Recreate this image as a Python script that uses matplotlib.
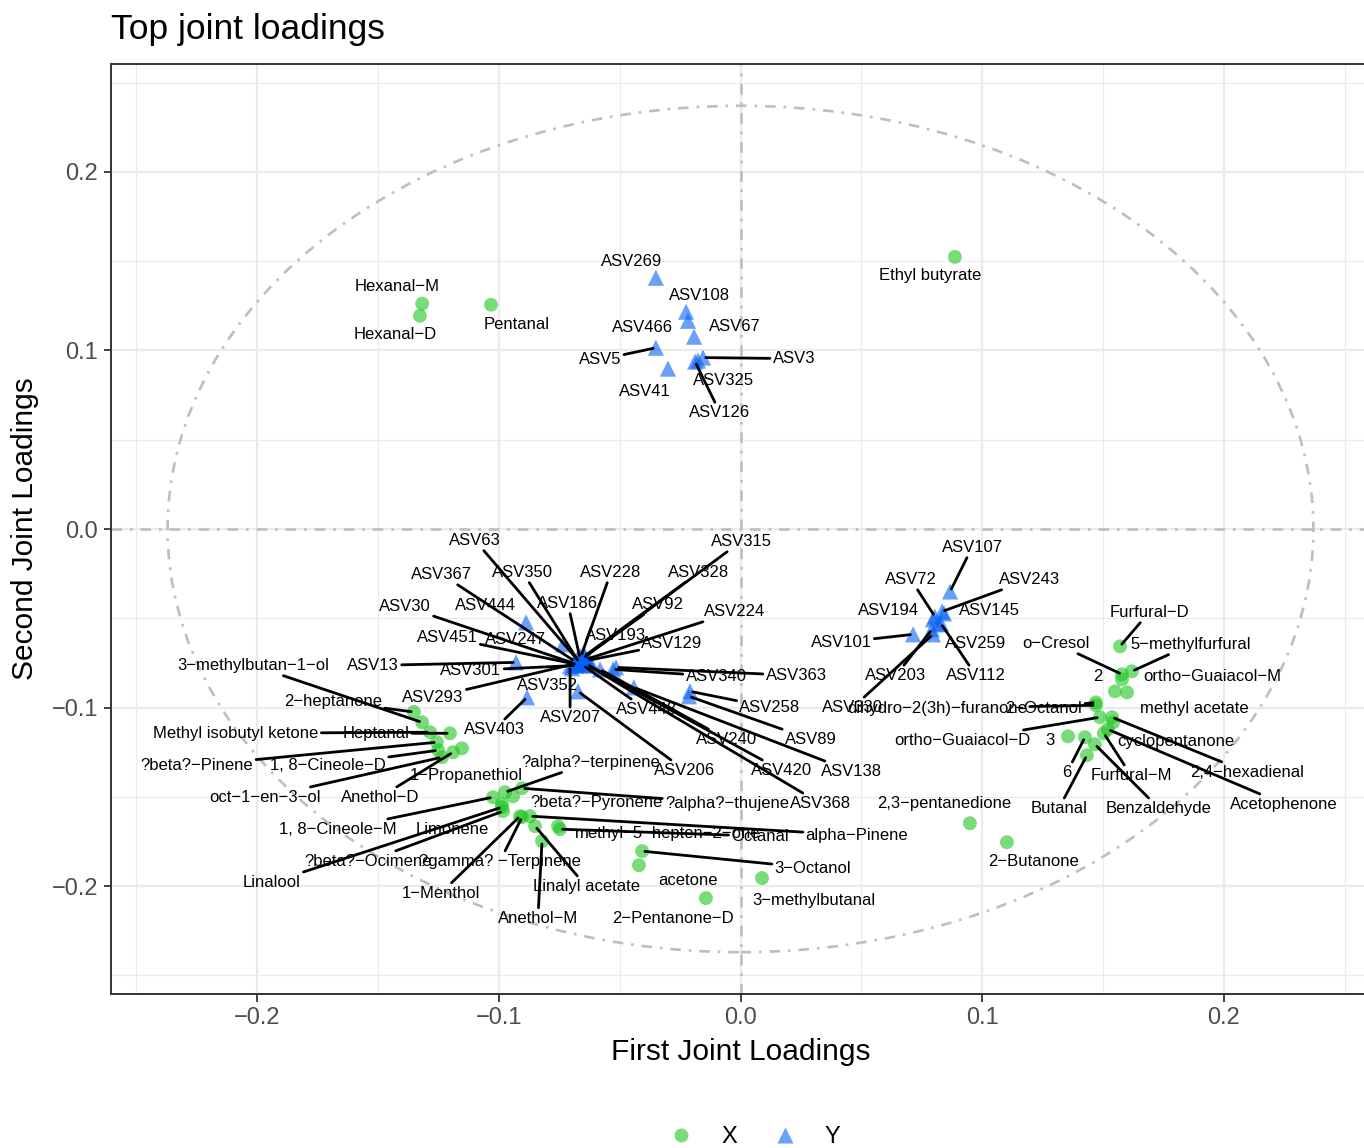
import matplotlib.pyplot as plt
from matplotlib.lines import Line2D
from matplotlib.patches import Ellipse

plt.rcParams['font.family'] = ['Liberation Sans', 'DejaVu Sans']

# X block loadings (metabolites)
x_names = ['Ethyl butyrate', 'Hexanal-M', 'Hexanal-D', 'Pentanal', '3-methylbutan-1-ol',
           '2-heptanone', 'Methyl isobutyl ketone', 'Heptanal', '?beta?-Pinene', '1, 8-Cineole-D',
           'oct-1-en-3-ol', 'Anethol-D', '1-Propanethiol', '?alpha?-terpinene', '?beta?-Pyronene',
           '?alpha?-thujene', '1, 8-Cineole-M', 'Limonene', 'Linalool', '?beta?-Ocimene',
           '?gamma? -Terpinene', '1-Menthol', 'Anethol-M', 'Linalyl acetate', 'methyl-5-hepten-2-one',
           'alpha-Pinene', 'Octanal', '3-Octanol', 'acetone', '3-methylbutanal',
           '2-Pentanone-D', '2,3-pentanedione', '2-Butanone', 'Furfural-D', '5-methylfurfural',
           'o-Cresol', '2', 'ortho-Guaiacol-M', 'methyl acetate', '2-Octanol',
           'dihydro-2(3h)-furanone', 'ortho-Guaiacol-D', '3', 'cyclopentanone', '2,4-hexadienal',
           'Acetophenone', 'Furfural-M', '6', 'Butanal', 'Benzaldehyde']
x_first = [0.0887, -0.1317, -0.1326, -0.1032, -0.1317,
           -0.1351, -0.1284, -0.1202, -0.1256, -0.1251,
           -0.1235, -0.1189, -0.1152, -0.0974, -0.0941,
           -0.0904, -0.1024, -0.0987, -0.0987, -0.0982,
           -0.0904, -0.0912, -0.0821, -0.0850, -0.0755,
           -0.0871, -0.0747, -0.0407, -0.0420, 0.0089,
           -0.0143, 0.0949, 0.1102, 0.1570, 0.1619,
           0.1578, 0.1578, 0.1599, 0.1549, 0.1470,
           0.1470, 0.1487, 0.1355, 0.1541, 0.1537,
           0.1520, 0.1503, 0.1425, 0.1433, 0.1466]
x_second = [0.1524, 0.1262, 0.1194, 0.1256, -0.1083,
            -0.1025, -0.1138, -0.1144, -0.1194, -0.1239,
            -0.1278, -0.1250, -0.1228, -0.1474, -0.1497,
            -0.1452, -0.1502, -0.1541, -0.1558, -0.1580,
            -0.1614, -0.1608, -0.1748, -0.1664, -0.1664,
            -0.1608, -0.1681, -0.1804, -0.1883, -0.1955,
            -0.2067, -0.1648, -0.1754, -0.0657, -0.0797,
            -0.0814, -0.0842, -0.0915, -0.0909, -0.0971,
            -0.0987, -0.1054, -0.1161, -0.1083, -0.1054,
            -0.1122, -0.1144, -0.1166, -0.1267, -0.1206]
# repelled label positions
x_label_first = [0.0784, -0.1421, -0.1429, -0.0925, -0.2017,
                 -0.1686, -0.2087, -0.1508, -0.2248, -0.1706,
                 -0.1967, -0.1491, -0.1135, -0.0618, -0.0594,
                 -0.0056, -0.1665, -0.1193, -0.1938, -0.1541,
                 -0.0995, -0.1239, -0.0838, -0.0639, -0.0300,
                 0.0482, 0.0081, 0.0300, -0.0217, 0.0304,
                 -0.0279, 0.0842, 0.1210, 0.1690, 0.1864,
                 0.1305, 0.1479, 0.1950, 0.1876, 0.1255,
                 0.0813, 0.0916, 0.1280, 0.1801, 0.2095,
                 0.2248, 0.1615, 0.1351, 0.1317, 0.1731]
x_label_second = [0.1420, 0.1357, 0.1088, 0.1144, -0.0764,
                  -0.0965, -0.1144, -0.1144, -0.1323, -0.1323,
                  -0.1502, -0.1502, -0.1379, -0.1306, -0.1530,
                  -0.1536, -0.1681, -0.1681, -0.1978, -0.1860,
                  -0.1860, -0.2039, -0.2179, -0.2000, -0.1703,
                  -0.1715, -0.1720, -0.1899, -0.1966, -0.2078,
                  -0.2179, -0.1536, -0.1860, -0.0467, -0.0646,
                  -0.0641, -0.0825, -0.0825, -0.1004, -0.1004,
                  -0.1004, -0.1183, -0.1183, -0.1189, -0.1362,
                  -0.1541, -0.1379, -0.1362, -0.1564, -0.1564]

# Y block loadings (ASVs)
y_names = ['ASV269', 'ASV108', 'ASV466', 'ASV67', 'ASV5', 'ASV41', 'ASV3', 'ASV325', 'ASV126',
           'ASV63', 'ASV367', 'ASV350', 'ASV228', 'ASV315', 'ASV328', 'ASV30', 'ASV444',
           'ASV186', 'ASV92', 'ASV224', 'ASV451', 'ASV247', 'ASV193', 'ASV129', 'ASV13',
           'ASV301', 'ASV293', 'ASV352', 'ASV403', 'ASV207', 'ASV448', 'ASV340', 'ASV363',
           'ASV258', 'ASV89', 'ASV240', 'ASV206', 'ASV420', 'ASV138', 'ASV368',
           'ASV107', 'ASV72', 'ASV243', 'ASV194', 'ASV145', 'ASV101', 'ASV259', 'ASV203',
           'ASV112', 'ASV330']
y_first = [-0.0350, -0.0225, -0.0217, -0.0192, -0.0350, -0.0300, -0.0155, -0.0176, -0.0188,
           -0.0676, -0.0685, -0.0668, -0.0660, -0.0651, -0.0647, -0.0689, -0.0887,
           -0.0664, -0.0643, -0.0639, -0.0680, -0.0734, -0.0623, -0.0631, -0.0929,
           -0.0680, -0.0676, -0.0697, -0.0883, -0.0705, -0.0651, -0.0527, -0.0515,
           -0.0209, -0.0213, -0.0581, -0.0672, -0.0635, -0.0441, -0.0631,
           0.0867, 0.0804, 0.0834, 0.0796, 0.0842, 0.0714, 0.0817, 0.0792,
           0.0829, 0.0796]
y_second = [0.1407, 0.1217, 0.1166, 0.1077, 0.1015, 0.0898, 0.0960, 0.0943, 0.0937,
            -0.0730, -0.0741, -0.0747, -0.0713, -0.0724, -0.0713, -0.0752, -0.0523,
            -0.0724, -0.0713, -0.0730, -0.0758, -0.0646, -0.0741, -0.0736, -0.0747,
            -0.0764, -0.0752, -0.0780, -0.0943, -0.0769, -0.0764, -0.0786, -0.0775,
            -0.0909, -0.0937, -0.0786, -0.0909, -0.0758, -0.0887, -0.0764,
            -0.0350, -0.0490, -0.0462, -0.0506, -0.0473, -0.0590, -0.0534, -0.0562,
            -0.0529, -0.0590]
y_label_first = [-0.0449, -0.0168, -0.0407, -0.0023, -0.0581, -0.0395, 0.0221, -0.0072, -0.0085,
                 -0.1098, -0.1235, -0.0900, -0.0536, 0.0002, -0.0172, -0.1388, -0.1053,
                 -0.0714, -0.0341, -0.0023, -0.1214, -0.0929, -0.0519, -0.0283, -0.1520,
                 -0.1115, -0.1272, -0.0800, -0.1019, -0.0705, -0.0391, -0.0101, 0.0230,
                 0.0122, 0.0291, -0.0056, -0.0230, 0.0168, 0.0459, 0.0329,
                 0.0958, 0.0705, 0.1197, 0.0614, 0.1028, 0.0416, 0.0974, 0.0643,
                 0.0974, 0.0465]
y_label_second = [0.1497, 0.1306, 0.1127, 0.1133, 0.0948, 0.0769, 0.0954, 0.0831, 0.0652,
                  -0.0064, -0.0255, -0.0243, -0.0243, -0.0070, -0.0243, -0.0434, -0.0428,
                  -0.0417, -0.0422, -0.0462, -0.0607, -0.0618, -0.0596, -0.0641, -0.0764,
                  -0.0792, -0.0943, -0.0876, -0.1122, -0.1054, -0.1010, -0.0825, -0.0820,
                  -0.0999, -0.1178, -0.1178, -0.1351, -0.1351, -0.1357, -0.1536,
                  -0.0103, -0.0283, -0.0283, -0.0456, -0.0456, -0.0635, -0.0641, -0.0820,
                  -0.0820, -0.0999]

# labels that got a leader segment
segments = {'3-methylbutan-1-ol', '2-heptanone', 'Methyl isobutyl ketone', 'Heptanal',
            '?beta?-Pinene', '1, 8-Cineole-D', 'oct-1-en-3-ol', 'Anethol-D',
            '?alpha?-terpinene', '?alpha?-thujene', '1, 8-Cineole-M', 'Linalool',
            '?beta?-Ocimene', '?gamma? -Terpinene', '1-Menthol', 'Anethol-M', 'Linalyl acetate',
            'alpha-Pinene', 'Octanal', '3-Octanol', 'Furfural-D', '5-methylfurfural', 'o-Cresol',
            '2-Octanol', 'dihydro-2(3h)-furanone', 'ortho-Guaiacol-D', '2,4-hexadienal',
            'Acetophenone', 'Furfural-M', '6', 'Butanal', 'Benzaldehyde',
            'ASV5', 'ASV3', 'ASV126', 'ASV63', 'ASV367', 'ASV350', 'ASV228', 'ASV315', 'ASV328',
            'ASV30', 'ASV186', 'ASV92', 'ASV224', 'ASV451', 'ASV129', 'ASV13', 'ASV301',
            'ASV293', 'ASV403', 'ASV207', 'ASV448', 'ASV340', 'ASV363', 'ASV258', 'ASV89',
            'ASV240', 'ASV206', 'ASV420', 'ASV138', 'ASV368', 'ASV107', 'ASV72', 'ASV243',
            'ASV101', 'ASV203', 'ASV112', 'ASV330'}

circle_radius = 0.237
green = '#1EC51E'
blue = '#0561F6'

fig = plt.figure(figsize=(13.64, 11.48), dpi=100)
ax = fig.add_axes([111 / 1364, 1 - 994 / 1148, (1370 - 111) / 1364, (994 - 64) / 1148])

ax.set_xlim(-0.2604, 0.2604)
ax.set_ylim(-0.2604, 0.2604)
ticks = [-0.2, -0.1, 0.0, 0.1, 0.2]
minor = [-0.25, -0.15, -0.05, 0.05, 0.15, 0.25]
ax.set_xticks(ticks)
ax.set_yticks(ticks)
ax.set_xticks(minor, minor=True)
ax.set_yticks(minor, minor=True)
ax.grid(which='major', color='#EBEBEB', lw=1.6)
ax.grid(which='minor', color='#EBEBEB', lw=0.8)
ax.set_axisbelow(True)
ax.tick_params(which='minor', length=0)
ax.tick_params(which='major', length=5.4, width=1.3, color='#333333',
               labelsize=17, labelcolor='#4D4D4D', pad=4)
for sp in ax.spines.values():
    sp.set_linewidth(1.4)
    sp.set_color('#333333')

dash = (0, (4, 3, 1, 3))
ax.axhline(0, color='#BEBEBE', lw=1.9, ls=dash, zorder=1)
ax.axvline(0, color='#BEBEBE', lw=1.9, ls=dash, zorder=1)
ax.add_patch(Ellipse((0, 0), 2 * circle_radius, 2 * circle_radius, fill=False,
                     edgecolor='#BEBEBE', lw=1.9, ls=dash, zorder=1))

ax.scatter(x_first, x_second, s=100, c=green, alpha=0.6, edgecolors='none', zorder=2)
ax.scatter(y_first, y_second, marker='^', s=135, c=blue, alpha=0.6, edgecolors='none', zorder=2)


def add_labels(names, px, py, lx, ly):
    for n, a, b, c, d in zip(names, px, py, lx, ly):
        txt = n.replace('-', '\u2212')
        if n in segments:
            ax.annotate(txt, xy=(a, b), xytext=(c, d), ha='center', va='center',
                        fontsize=12, color='black', zorder=3,
                        arrowprops=dict(arrowstyle='-', color='black', lw=2.0,
                                        shrinkA=0, shrinkB=2))
        else:
            ax.text(c, d, txt, ha='center', va='center', fontsize=12, color='black', zorder=3)


add_labels(x_names, x_first, x_second, x_label_first, x_label_second)
add_labels(y_names, y_first, y_second, y_label_first, y_label_second)

fig.text(111 / 1364, 1 - 30 / 1148, 'Top joint loadings', fontsize=25.5, ha='left', va='center')
fig.text(741 / 1364, 1 - 1052 / 1148, 'First Joint Loadings', fontsize=21.5, ha='center', va='center')
fig.text(25 / 1364, 1 - 529 / 1148, 'Second Joint Loadings', fontsize=21.5, rotation=90,
         ha='center', va='center')

handles = [Line2D([], [], marker='o', ls='none', color=green, alpha=0.6, markersize=10, mec='none'),
           Line2D([], [], marker='^', ls='none', color=blue, alpha=0.6, markersize=11.5, mec='none')]
fig.legend(handles, ['X', 'Y'], loc='center', bbox_to_anchor=(755 / 1364, 1 - 1137 / 1148),
           ncol=2, frameon=False, fontsize=17, handlelength=1.0, handletextpad=1.2,
           columnspacing=1.5)

fig.savefig('out.png', dpi=100)
